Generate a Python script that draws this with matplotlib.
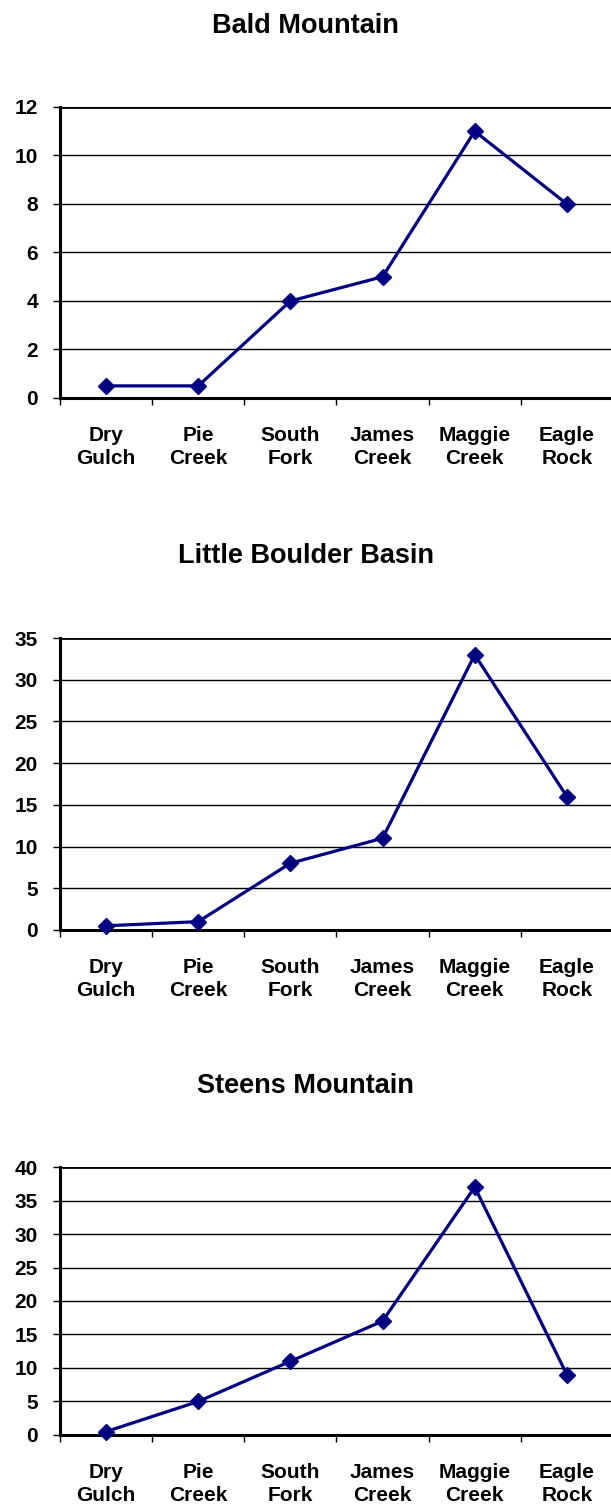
import matplotlib
matplotlib.use("Agg")
from matplotlib import pyplot as plt
import numpy as np

# data
SITES = ["Dry\nGulch", "Pie\nCreek", "South\nFork", "James\nCreek", "Maggie\nCreek", "Eagle\nRock"]
TITLES = ["Bald Mountain", "Little Boulder Basin", "Steens Mountain"]
bald = [0.5, 0.5, 4, 5, 11, 8]
boulder = [0.5, 1, 8, 11, 33, 16]
steens = [0.5, 5, 11, 17, 37, 9]
YMAX = [12, 35, 40]
YSTEP = [2, 5, 5]

# axes boxes in figure coords (left, bottom, width, height)
BOXES = [
  (0.0982, 0.7359, 0.905, 0.1931),
  (0.0982, 0.3829, 0.905, 0.1937),
  (0.0982, 0.0478, 0.905, 0.1778),
]
TITLE_Y = [1 - 26/1507, 1 - 556/1507, 1 - 1086/1507]

plt.rcParams['font.family'] = ['Liberation Sans', 'DejaVu Sans']
plt.rcParams['font.weight'] = 'bold'

def draw(fig, box, title, ty, values, ymax, ystep):
  ax = fig.add_axes(box)
  x = np.arange(len(values))
  ax.set_xlim(-0.5, len(values) - 0.5)
  ax.set_ylim(0, ymax)
  ax.set_yticks(np.arange(0, ymax + 0.1, ystep))
  for yv in np.arange(ystep, ymax + 0.1, ystep):
    ax.axhline(yv, color="black", lw=2.0 if yv == ymax else 1.0, zorder=1)
  ax.plot(x, values, color="#000080", lw=2.3, marker="D", ms=8.5, zorder=3, clip_on=False)
  ax.set_xticks(np.arange(-0.5, len(values)), labels=[""] * (len(values) + 1))
  ax.set_xticks(x, labels=SITES, minor=True)
  ax.tick_params(axis="x", which="major", length=5, width=1, direction="out")
  ax.tick_params(axis="x", which="minor", length=0, pad=20, labelsize=15)
  ax.tick_params(axis="y", length=5, width=1, direction="out", labelsize=15, pad=11)
  for lbl in ax.get_xticklabels(minor=True):
    lbl.set_fontweight("bold")
    lbl.set_linespacing(1.27)
  for lbl in ax.get_yticklabels():
    lbl.set_fontweight("bold")
  for s in ["top", "right"]:
    ax.spines[s].set_visible(False)
  ax.spines["left"].set_linewidth(2.2)
  ax.spines["bottom"].set_linewidth(2.2)
  fig.text(0.5, ty, title, ha="center", va="center", fontsize=19.5, fontweight="bold")
  return ax


def main():
  fig = plt.figure(figsize=(6.11, 15.07), dpi=100)
  for box, title, ty, vals, ymax, ystep in zip(BOXES, TITLES, TITLE_Y,
                                               [bald, boulder, steens], YMAX, YSTEP):
    draw(fig, box, title, ty, vals, ymax, ystep)
  fig.savefig("out.png", dpi=100, facecolor="white")


if __name__ == "__main__":
  main()
